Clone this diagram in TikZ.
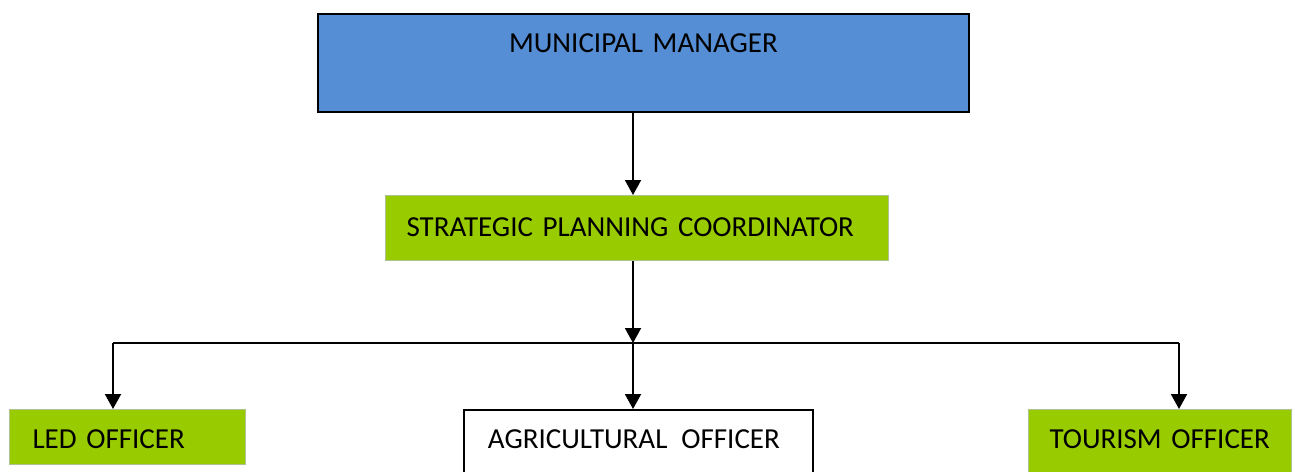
\documentclass[tikz,border=0pt]{standalone}
\usepackage{fontspec}
\setmainfont{Carlito}
\usetikzlibrary{arrows.meta}

\definecolor{mmblue}{RGB}{85,142,213}
\definecolor{officegreen}{RGB}{153,204,0}
\definecolor{greenedge}{RGB}{175,195,145}

\begin{document}
\begin{tikzpicture}[x=0.02cm, y=-0.02cm,
        orgbox/.style={anchor=north west, inner ysep=0pt, align=left,
            font=\fontsize{16.5}{18}\selectfont},
        topbox/.style={orgbox, align=center, fill=mmblue, draw=black, line width=1.1pt},
        greenbox/.style={orgbox, fill=officegreen, draw=greenedge, line width=0.6pt},
        whitebox/.style={orgbox, fill=white, draw=black, line width=1.1pt},
        link/.style={line width=1.1pt, -{Triangle[width=0.32cm, length=0.3cm]}}]
        \useasboundingbox (0,0) rectangle (1295,471);
        \clip (0,0) rectangle (1295,471);

        % boxes, placed by their top left corners
        \node[topbox, inner xsep=0pt, text width=13.02cm, text height=0.78cm, text depth=1.18cm] (mm) at (317,13) {MUNICIPAL MANAGER};
        \node[greenbox, inner xsep=0.42cm, text width=9.22cm, text height=0.82cm, text depth=0.48cm] (spc) at (385,195) {STRATEGIC PLANNING COORDINATOR};
        \node[greenbox, inner xsep=0.46cm, text width=3.80cm, text height=0.78cm, text depth=0.32cm] (led) at (9,409) {LED OFFICER};
        \node[whitebox, inner xsep=0.48cm, text width=6.02cm, text height=0.78cm, text depth=0.64cm] (agri) at (463,409) {AGRICULTURAL\hspace{0.28cm}OFFICER};
        \node[greenbox, inner xsep=0.42cm, text width=4.42cm, text height=0.78cm, text depth=0.54cm] (tour) at (1028,409) {TOURISM OFFICER};

        % the bus that feeds the three officers
        \coordinate (busL) at (113,343);
        \coordinate (bus) at (633,343);
        \coordinate (busR) at (1179,343);

        \draw[link] (mm.south -| bus) -- (spc.north -| bus);
        \draw[link] (spc.south -| bus) -- (bus);
        \draw[line width=1.1pt] (busL) -- (busR);
        \draw[link] (busL) -- (busL |- led.north);
        \draw[link] (bus) -- (bus |- agri.north);
        \draw[link] (busR) -- (busR |- tour.north);
    \end{tikzpicture}
\end{document}
